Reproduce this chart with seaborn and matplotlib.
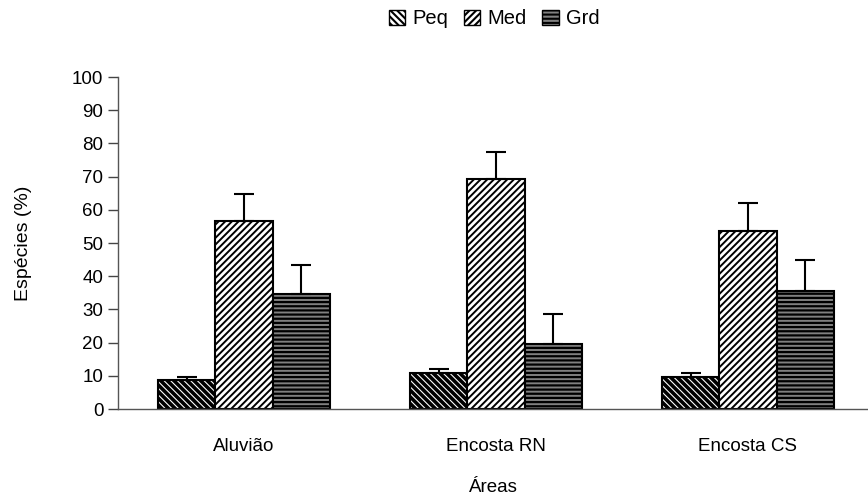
import matplotlib
matplotlib.use('Agg')
import matplotlib.pyplot as plt
import matplotlib.patches as mpatches
import numpy as np
import pandas as pd
import seaborn as sns

areas = ['Aluvião', 'Encosta RN', 'Encosta CS']
classes = ['Peq', 'Med', 'Grd']
peq = [8.7, 10.9, 9.7]
med = [56.6, 69.2, 53.7]
grd = [34.5, 19.6, 35.6]
peq_err = [1.0, 1.1, 1.2]
med_err = [8.2, 8.1, 8.3]
grd_err = [8.9, 8.9, 9.4]

df = pd.DataFrame({
    'area': areas * 3,
    'classe': [c for c in classes for _ in areas],
    'valor': peq + med + grd,
    'erro': peq_err + med_err + grd_err,
})

sns.set_style('white')
plt.rcParams['font.family'] = ['Liberation Sans', 'DejaVu Sans']
plt.rcParams['text.color'] = 'black'
plt.rcParams['axes.labelcolor'] = 'black'
plt.rcParams['hatch.linewidth'] = 1.5

fig = plt.figure(figsize=(8.68, 5.01), dpi=100)
ax = fig.add_axes([118 / 868, 92 / 501, 750 / 868, 332 / 501])

sns.barplot(data=df, x='area', y='valor', hue='classe', order=areas,
            hue_order=classes, width=0.68, errorbar=None, ax=ax,
            edgecolor='black', linewidth=1.5, legend=False)

styles = {
    'Peq': dict(facecolor='white', hatch='\\\\\\\\\\', hlw=2.6),
    'Med': dict(facecolor='white', hatch='/////', hlw=1.4),
    'Grd': dict(facecolor='#808080', hatch='----', hlw=1.6),
}

bars = ax.patches[:9]
for i, bar in enumerate(bars):
    cls = classes[i // 3]
    bar.set_facecolor(styles[cls]['facecolor'])
    bar.set_hatch(styles[cls]['hatch'])
    bar.set_edgecolor('black')
    if hasattr(bar, 'set_hatch_linewidth'):
        bar.set_hatch_linewidth(styles[cls]['hlw'])
    x = bar.get_x() + bar.get_width() / 2
    h = bar.get_height()
    e = df['erro'].iloc[i]
    ax.errorbar(x, h, yerr=[[0], [e]], color='black', capsize=7,
                elinewidth=1.5, capthick=1.5, zorder=1)

ax.set_ylim(0, 100)
ax.set_yticks(range(0, 101, 10))
ax.set_xlim(-0.5, 2.5 - 6 / 252)
ax.set_xticks([-0.5, 0.5, 1.5])
ax.set_xticklabels([])
ax.set_xticks([0, 1, 2], minor=True)
ax.set_xticklabels(areas, minor=True)
ax.tick_params(axis='x', which='major', direction='out', length=8, width=1, colors='#444444')
ax.tick_params(axis='x', which='minor', length=0, pad=21, labelsize=13.5, labelcolor='black')
ax.tick_params(axis='y', direction='out', length=7, width=1, colors='#444444',
               labelsize=13.5, labelcolor='black', left=True)

for side in ['top', 'right']:
    ax.spines[side].set_visible(False)
for side in ['left', 'bottom']:
    ax.spines[side].set_color('#555555')
    ax.spines[side].set_linewidth(1)

ax.set_xlabel('Áreas', fontsize=13.5, labelpad=17, color='black')
ax.set_ylabel('Espécies (%)', fontsize=14, labelpad=29, color='black')

handles = []
for c in classes:
    p = mpatches.Patch(facecolor=styles[c]['facecolor'], hatch=styles[c]['hatch'],
                       edgecolor='black', linewidth=1, label=c)
    handles.append(p)
leg = fig.legend(handles=handles, loc='center', bbox_to_anchor=(494 / 868, 1 - 19 / 501),
                 ncol=3, frameon=False, fontsize=14.5, handlelength=0.8, handleheight=0.8,
                 handletextpad=0.35, columnspacing=0.8)
for t in leg.get_texts():
    t.set_color('black')

fig.savefig('out.png', dpi=100)
